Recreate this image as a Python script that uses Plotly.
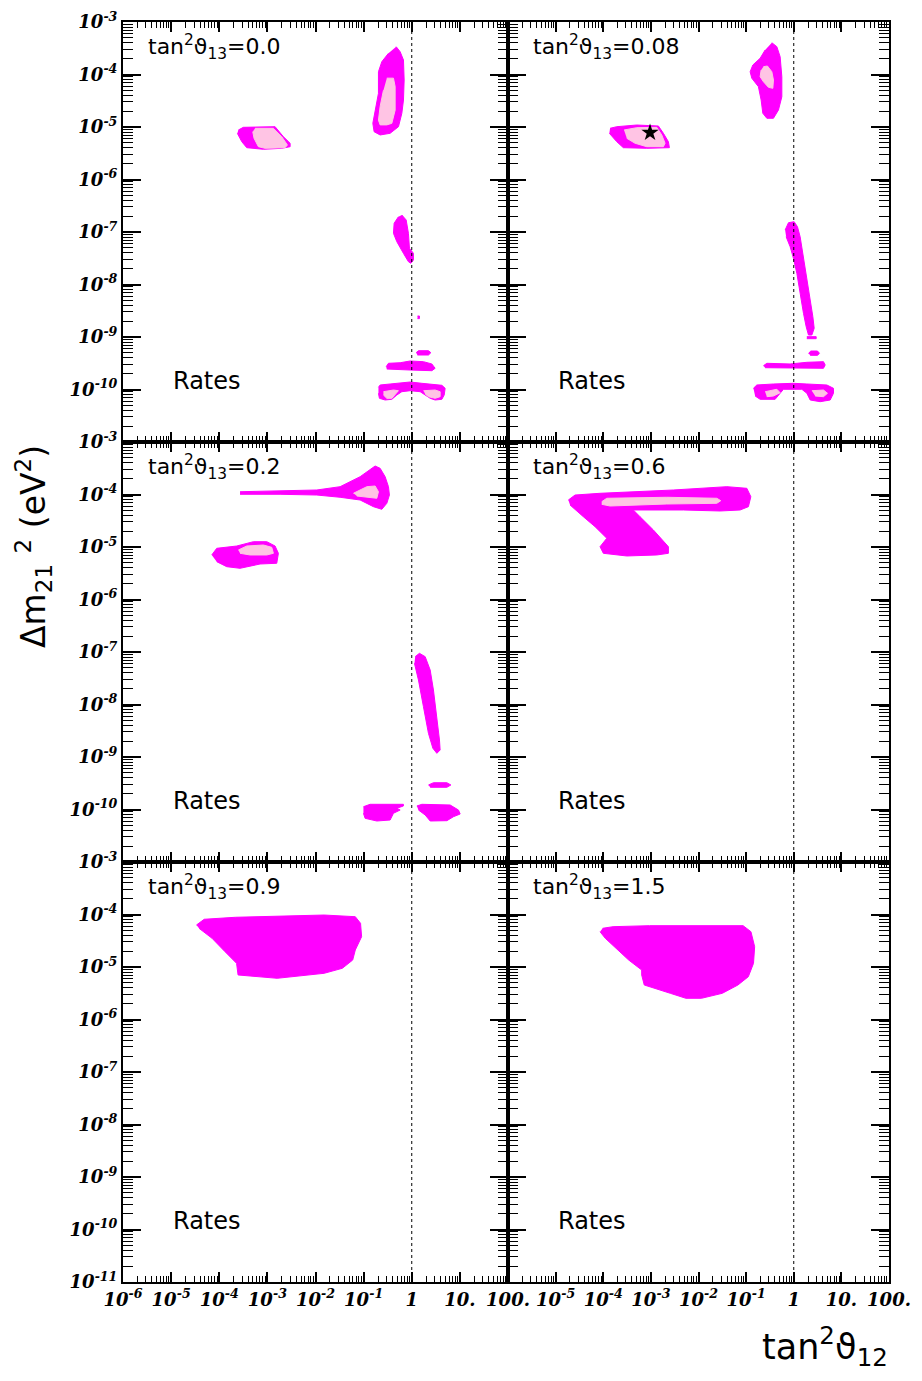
import numpy as np
import plotly.graph_objects as go

# ---------------- data (log10 tan^2 theta12, log10 dm2_21 [eV^2]) ----------------
theta13_labels = ["0.0", "0.08", "0.2", "0.6", "0.9", "1.5"]
annotation_text = "Rates"
x_tick_decades = [-6, -5, -4, -3, -2, -1, 0, 1, 2]
x_tick_text = ["10<sup>-6</sup>", "10<sup>-5</sup>", "10<sup>-4</sup>", "10<sup>-3</sup>",
               "10<sup>-2</sup>", "10<sup>-1</sup>", "1", "10.", "100."]
y_tick_decades = [-11, -10, -9, -8, -7, -6, -5, -4, -3]
y_tick_text = ["10<sup>-11</sup>", "10<sup>-10</sup>", "10<sup>-9</sup>", "10<sup>-8</sup>",
               "10<sup>-7</sup>", "10<sup>-6</sup>", "10<sup>-5</sup>", "10<sup>-4</sup>", "10<sup>-3</sup>"]
maximal_mixing_tan2 = 1.0
dm2_limits = [1e-11, 1e-3]
best_fit_tan2 = 9.6e-4
best_fit_dm2 = 7.8e-6

# panel 1: tan^2 theta13 = 0.0
p1_lma_out_x = [-0.324, -0.241, -0.172, -0.158, -0.172, -0.206, -0.276, -0.449, -0.657, -0.782, -0.809, -0.761, -0.692, -0.692, -0.622, -0.484]
p1_lma_out_y = [-3.47, -3.566, -3.724, -4.105, -4.486, -4.739, -4.994, -5.12, -5.152, -5.09, -4.93, -4.676, -4.358, -3.947, -3.756, -3.596]
p1_lma_in_x = [-0.518, -0.380, -0.345, -0.345, -0.414, -0.518, -0.657, -0.692, -0.657, -0.588]
p1_lma_in_y = [-4.07, -4.07, -4.23, -4.68, -4.93, -4.96, -4.96, -4.87, -4.61, -4.30]
p1_sma_out_x = [-3.603, -3.499, -2.840, -2.667, -2.527, -2.527, -2.701, -3.083, -3.428, -3.532, -3.624]
p1_sma_out_y = [-5.057, -5.006, -4.994, -5.185, -5.310, -5.375, -5.406, -5.425, -5.394, -5.280, -5.120]
p1_sma_in_x = [-3.256, -2.875, -2.701, -2.584, -2.632, -3.048, -3.187, -3.277, -3.304]
p1_sma_in_y = [-5.025, -5.025, -5.185, -5.343, -5.394, -5.406, -5.375, -5.215, -5.09]
p1_low_x = [-0.206, -0.116, -0.069, -0.048, 0.035, 0.035, -0.019, -0.069, -0.173, -0.310, -0.380, -0.366, -0.277]
p1_low_y = [-6.676, -6.771, -7.025, -7.31, -7.406, -7.533, -7.596, -7.566, -7.406, -7.185, -7.025, -6.834, -6.71]
p1_dot_x = [0.12, 0.16, 0.16, 0.12]
p1_dot_y = [-8.60, -8.60, -8.65, -8.65]
p1_vac_a_x = [0.091, 0.139, 0.347, 0.397, 0.347, 0.118]
p1_vac_a_y = [-9.299, -9.261, -9.261, -9.299, -9.343, -9.343]
p1_vac_b_x = [-0.532, -0.484, -0.241, -0.033, 0.243, 0.418, 0.486, 0.418, -0.033, -0.518]
p1_vac_b_y = [-9.566, -9.501, -9.49, -9.457, -9.47, -9.514, -9.596, -9.642, -9.629, -9.61]
p1_arch_x = [-0.692, -0.657, -0.449, -0.241, -0.033, 0.210, 0.418, 0.626, 0.694, 0.674, 0.626, 0.486, 0.383, 0.279, 0.175, -0.033, -0.206, -0.310, -0.414, -0.553, -0.672, -0.692]
p1_arch_y = [-9.958, -9.914, -9.895, -9.882, -9.857, -9.882, -9.895, -9.92, -9.977, -10.105, -10.187, -10.2, -10.168, -10.105, -10.042, -10.023, -10.042, -10.105, -10.187, -10.2, -10.168, -10.072]
p1_arch_in_l_x = [-0.588, -0.380, -0.277, -0.345, -0.414, -0.518, -0.588]
p1_arch_in_l_y = [-10.042, -10.01, -10.023, -10.105, -10.168, -10.168, -10.105]
p1_arch_in_r_x = [0.243, 0.486, 0.590, 0.590, 0.486, 0.347, 0.279]
p1_arch_in_r_y = [-10.023, -10.01, -10.042, -10.137, -10.168, -10.137, -10.086]

# panel 2: tan^2 theta13 = 0.08
p2_lma_out_x = [-0.460, -0.355, -0.286, -0.250, -0.250, -0.321, -0.426, -0.565, -0.649, -0.685, -0.742, -0.880, -0.916, -0.859, -0.706, -0.601]
p2_lma_out_y = [-3.394, -3.47, -3.661, -4.042, -4.423, -4.676, -4.834, -4.834, -4.739, -4.486, -4.232, -4.072, -3.947, -3.819, -3.691, -3.533]
p2_lma_in_x = [-0.637, -0.553, -0.460, -0.426, -0.439, -0.532, -0.637, -0.706, -0.685]
p2_lma_in_y = [-3.851, -3.838, -3.947, -4.105, -4.263, -4.244, -4.137, -4.042, -3.914]
p2_sma_out_x = [-3.857, -3.716, -3.296, -2.842, -2.737, -2.632, -2.611, -3.086, -3.578, -3.716, -3.872]
p2_sma_out_y = [-5.025, -4.994, -4.962, -4.981, -5.12, -5.28, -5.394, -5.406, -5.394, -5.28, -5.12]
p2_sma_in_x = [-3.563, -3.296, -2.876, -2.771, -2.702, -2.737, -3.086, -3.332, -3.506]
p2_sma_in_y = [-5.057, -5.013, -5.006, -5.152, -5.31, -5.375, -5.375, -5.31, -5.215]
p2_low_x = [-0.181, -0.111, 0.008, 0.078, 0.134, 0.204, 0.275, 0.345, 0.401, 0.429, 0.380, 0.309, 0.261, 0.204, 0.134, 0.065, -0.006, -0.076, -0.160]
p2_low_y = [-6.962, -6.823, -6.804, -6.899, -7.09, -7.47, -7.851, -8.295, -8.613, -8.834, -8.962, -8.962, -8.804, -8.549, -8.168, -7.787, -7.501, -7.28, -7.09]
p2_bar_x = [0.275, 0.471, 0.471, 0.275]
p2_bar_y = [-8.994, -8.994, -9.032, -9.032]
p2_blob_x = [0.309, 0.359, 0.498, 0.540, 0.498, 0.345]
p2_blob_y = [-9.311, -9.267, -9.267, -9.311, -9.349, -9.349]
p2_band_x = [-0.637, -0.565, -0.076, 0.275, 0.624, 0.660, 0.624, 0.275, -0.076, -0.601]
p2_band_y = [-9.547, -9.501, -9.514, -9.482, -9.47, -9.533, -9.596, -9.596, -9.585, -9.585]
p2_arch_x = [-0.847, -0.775, -0.426, -0.006, 0.275, 0.695, 0.834, 0.834, 0.765, 0.555, 0.345, 0.275, 0.170, -0.216, -0.286, -0.391, -0.706, -0.811]
p2_arch_y = [-9.977, -9.914, -9.895, -9.882, -9.895, -9.914, -9.977, -10.072, -10.2, -10.232, -10.2, -10.072, -9.996, -9.996, -10.072, -10.187, -10.187, -10.124]
p2_arch_in_l_x = [-0.601, -0.355, -0.286, -0.426, -0.565]
p2_arch_in_l_y = [-10.042, -9.996, -10.061, -10.124, -10.137]
p2_arch_in_r_x = [0.380, 0.624, 0.708, 0.624, 0.450]
p2_arch_in_r_y = [-10.023, -10.01, -10.072, -10.137, -10.124]

# panel 3: tan^2 theta13 = 0.2
p3_lma_out_x = [-3.568, -2.736, -1.973, -1.489, -1.073, -0.761, -0.657, -0.553, -0.484, -0.464, -0.518, -0.622, -0.796, -1.073, -1.489, -1.973, -2.736, -3.568]
p3_lma_out_y = [-3.947, -3.928, -3.914, -3.851, -3.661, -3.457, -3.501, -3.661, -3.851, -4.01, -4.168, -4.282, -4.232, -4.105, -4.053, -4.01, -3.996, -3.996]
p3_lma_in_x = [-1.212, -0.933, -0.761, -0.692, -0.726, -0.933, -1.141]
p3_lma_in_y = [-3.977, -3.851, -3.838, -3.947, -4.072, -4.053, -4.029]
p3_sma_out_x = [-4.156, -4.052, -3.636, -3.291, -3.012, -2.840, -2.771, -2.805, -3.152, -3.568, -3.844, -4.052]
p3_sma_out_y = [-5.152, -5.025, -4.981, -4.899, -4.899, -4.981, -5.12, -5.31, -5.324, -5.406, -5.375, -5.28]
p3_sma_in_x = [-3.603, -3.428, -3.083, -2.909, -2.875, -3.012, -3.360, -3.568]
p3_sma_in_y = [-5.057, -4.981, -4.962, -5.006, -5.12, -5.152, -5.152, -5.12]
p3_low_x = [0.071, 0.160, 0.279, 0.383, 0.451, 0.522, 0.576, 0.590, 0.522, 0.439, 0.347, 0.243, 0.139, 0.056]
p3_low_y = [-7.089, -7.025, -7.089, -7.343, -7.724, -8.232, -8.676, -8.867, -8.93, -8.834, -8.549, -8.042, -7.533, -7.215]
p3_bar_x = [0.347, 0.451, 0.730, 0.813, 0.730, 0.383]
p3_bar_y = [-9.533, -9.490, -9.490, -9.533, -9.577, -9.577]
p3_vac_l_x = [-1.004, -0.865, -0.173, -0.173, -0.310, -0.241, -0.380, -0.449, -0.726, -0.969, -1.004]
p3_vac_l_y = [-9.947, -9.901, -9.901, -9.933, -9.977, -10.01, -10.072, -10.2, -10.219, -10.168, -10.072]
p3_vac_r_x = [0.106, 0.210, 0.798, 0.971, 1.006, 0.867, 0.730, 0.383, 0.279, 0.139]
p3_vac_r_y = [-9.933, -9.901, -9.914, -10.01, -10.086, -10.137, -10.213, -10.219, -10.105, -10.01]

# panel 4: tan^2 theta13 = 0.6
p4_out_x = [-4.733, -4.592, -4.067, -3.368, -2.527, -1.405, -0.985, -0.901, -0.952, -1.126, -1.546, -2.317, -3.368, -3.227, -2.947, -2.632, -2.632, -2.876, -3.506, -3.998, -4.067, -3.926, -4.172, -4.418, -4.697]
p4_out_y = [-4.105, -4.01, -3.977, -3.947, -3.914, -3.851, -3.882, -4.042, -4.232, -4.295, -4.314, -4.295, -4.295, -4.423, -4.676, -4.994, -5.12, -5.152, -5.171, -5.12, -4.994, -4.834, -4.613, -4.423, -4.2]
p4_in_x = [-4.032, -3.926, -2.666, -1.616, -1.532, -1.616, -2.666, -3.857, -4.032]
p4_in_y = [-4.137, -4.072, -4.053, -4.072, -4.118, -4.168, -4.181, -4.219, -4.187]

# panel 5: tan^2 theta13 = 0.9
p5_out_x = [-4.474, -4.312, -3.663, -1.821, -1.173, -1.064, -1.042, -1.173, -1.227, -1.443, -1.821, -2.796, -3.609, -3.640, -3.879, -4.150, -4.420]
p5_out_y = [-4.2, -4.091, -4.053, -4.01, -4.042, -4.168, -4.423, -4.676, -4.867, -5.025, -5.12, -5.215, -5.152, -4.93, -4.709, -4.453, -4.263]

# panel 6: tan^2 theta13 = 1.5
p6_out_x = [-4.013, -3.794, -3.029, -1.063, -0.899, -0.821, -0.845, -0.954, -1.172, -1.5, -1.937, -2.265, -2.592, -2.920, -3.139, -3.193, -3.193, -3.466, -3.739, -3.958, -4.067]
p6_out_y = [-4.263, -4.232, -4.213, -4.213, -4.328, -4.613, -4.93, -5.185, -5.343, -5.501, -5.596, -5.596, -5.501, -5.406, -5.343, -5.152, -5.057, -4.867, -4.644, -4.453, -4.328]

# ---------------- styling ----------------
MAGENTA = "#FF00FF"
PINK = "#FFC4E4"

panel_regions = [
    [(p1_lma_out_x, p1_lma_out_y, MAGENTA), (p1_sma_out_x, p1_sma_out_y, MAGENTA),
     (p1_low_x, p1_low_y, MAGENTA), (p1_dot_x, p1_dot_y, MAGENTA),
     (p1_vac_a_x, p1_vac_a_y, MAGENTA), (p1_vac_b_x, p1_vac_b_y, MAGENTA),
     (p1_arch_x, p1_arch_y, MAGENTA),
     (p1_lma_in_x, p1_lma_in_y, PINK), (p1_sma_in_x, p1_sma_in_y, PINK),
     (p1_arch_in_l_x, p1_arch_in_l_y, PINK), (p1_arch_in_r_x, p1_arch_in_r_y, PINK)],
    [(p2_lma_out_x, p2_lma_out_y, MAGENTA), (p2_sma_out_x, p2_sma_out_y, MAGENTA),
     (p2_low_x, p2_low_y, MAGENTA), (p2_bar_x, p2_bar_y, MAGENTA),
     (p2_blob_x, p2_blob_y, MAGENTA), (p2_band_x, p2_band_y, MAGENTA),
     (p2_arch_x, p2_arch_y, MAGENTA),
     (p2_lma_in_x, p2_lma_in_y, PINK), (p2_sma_in_x, p2_sma_in_y, PINK),
     (p2_arch_in_l_x, p2_arch_in_l_y, PINK), (p2_arch_in_r_x, p2_arch_in_r_y, PINK)],
    [(p3_lma_out_x, p3_lma_out_y, MAGENTA), (p3_sma_out_x, p3_sma_out_y, MAGENTA),
     (p3_low_x, p3_low_y, MAGENTA), (p3_bar_x, p3_bar_y, MAGENTA),
     (p3_vac_l_x, p3_vac_l_y, MAGENTA), (p3_vac_r_x, p3_vac_r_y, MAGENTA),
     (p3_lma_in_x, p3_lma_in_y, PINK), (p3_sma_in_x, p3_sma_in_y, PINK)],
    [(p4_out_x, p4_out_y, MAGENTA), (p4_in_x, p4_in_y, PINK)],
    [(p5_out_x, p5_out_y, MAGENTA)],
    [(p6_out_x, p6_out_y, MAGENTA)],
]

W, H = 922, 1381
OFF = 8  # page body margin of the browser
col_px = [(123 - OFF, 508 - OFF), (508 - OFF, 889 - OFF)]
row_px = [(22 - OFF, 442 - OFF), (442 - OFF, 862 - OFF), (862 - OFF, 1282 - OFF)]

fig = go.Figure()

minor_x = [m * 10.0 ** d for d in range(-6, 2) for m in range(2, 10)]
minor_y = [m * 10.0 ** d for d in range(-11, -3) for m in range(2, 10)]

tickfont = dict(family="DejaVu Serif", size=18, color="black", weight="bold", style="italic")
label_font = dict(family="DejaVu Sans", size=22, color="black")

layout_axes = {}
for i in range(6):
    r, c = divmod(i, 2)
    n = "" if i == 0 else str(i + 1)
    xd = [col_px[c][0] / W, col_px[c][1] / W]
    yd = [1 - row_px[r][1] / H, 1 - row_px[r][0] / H]

    xt = list(x_tick_text)
    if c == 1:
        xt[0] = ""
    yt = list(y_tick_text)
    if r < 2:
        yt[0] = ""

    common = dict(type="log", showline=True, linecolor="black", linewidth=2, mirror="allticks",
                  ticks="inside", tickwidth=1.5, tickcolor="black", automargin=False,
                  showgrid=False, zeroline=False, tickmode="array", tickfont=tickfont)
    layout_axes["xaxis" + n] = dict(common, domain=xd, range=[-6, 2], anchor="y" + n, ticklen=10,
                                     tickvals=[10.0 ** d for d in x_tick_decades], ticktext=xt,
                                     showticklabels=(r == 2),
                                     minor=dict(tickmode="array", tickvals=minor_x, ticks="inside",
                                                ticklen=6, tickwidth=1, tickcolor="black", showgrid=False))
    layout_axes["yaxis" + n] = dict(common, domain=yd, range=[-11, -3], anchor="x" + n, ticklen=18,
                                     tickvals=[10.0 ** d for d in y_tick_decades], ticktext=yt,
                                     showticklabels=(c == 0),
                                     minor=dict(tickmode="array", tickvals=minor_y, ticks="inside",
                                                ticklen=10, tickwidth=1, tickcolor="black", showgrid=False))

    for lx, ly, color in panel_regions[i]:
        fig.add_trace(go.Scatter(
            x=np.power(10.0, lx), y=np.power(10.0, ly), mode="lines", fill="toself",
            fillcolor=color, line=dict(color=color, width=1), hoverinfo="skip",
            showlegend=False, xaxis="x" + n, yaxis="y" + n))

    fig.add_trace(go.Scatter(
        x=[maximal_mixing_tan2, maximal_mixing_tan2], y=dm2_limits, mode="lines",
        line=dict(color="black", width=1, dash="dot"), hoverinfo="skip",
        showlegend=False, xaxis="x" + n, yaxis="y" + n))

    if i == 1:
        fig.add_trace(go.Scatter(
            x=[best_fit_tan2], y=[best_fit_dm2], mode="markers",
            marker=dict(symbol="star", size=13, color="black"),
            showlegend=False, xaxis="x" + n, yaxis="y" + n))

    fig.add_annotation(
        text="tan<sup>2</sup>ϑ<sub>13</sub>=" + theta13_labels[i],
        xref="x" + n + " domain", yref="y" + n + " domain",
        x=0.06, y=0.94, xanchor="left", yanchor="middle", showarrow=False, font=label_font)
    fig.add_annotation(
        text=annotation_text,
        xref="x" + n + " domain", yref="y" + n + " domain",
        x=0.125, y=0.145, xanchor="left", yanchor="middle", showarrow=False,
        font=dict(family="DejaVu Sans", size=24, color="black"))

fig.add_annotation(
    text="Δm<sub>21</sub> <sup>2</sup> (eV<sup>2</sup>)", xref="paper", yref="paper",
    x=(33 - OFF) / W, y=1 - (547 - OFF) / H, xanchor="center", yanchor="middle", textangle=-90,
    showarrow=False, font=dict(family="DejaVu Sans", size=33, color="black"))
fig.add_annotation(
    text="tan<sup>2</sup>ϑ<sub>12</sub>", xref="paper", yref="paper",
    x=(890 - OFF) / W, y=1 - (1346 - OFF) / H, xanchor="right", yanchor="middle",
    showarrow=False, font=dict(family="DejaVu Sans", size=35, color="black"))

fig.update_layout(width=W, height=H, margin=dict(l=0, r=0, t=0, b=0, autoexpand=False),
                  plot_bgcolor="white", paper_bgcolor="white", showlegend=False,
                  **layout_axes)

fig.write_html("out.html")
